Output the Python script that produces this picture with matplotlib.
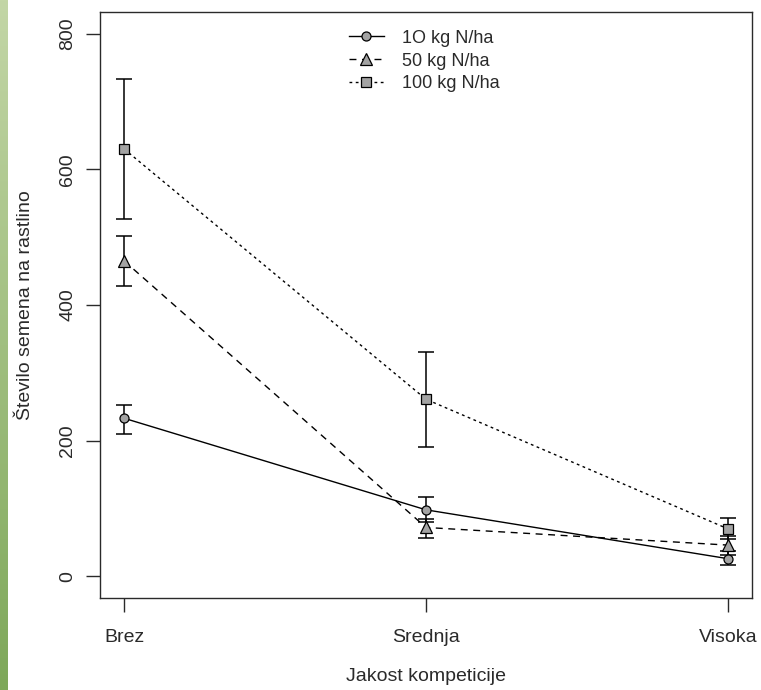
import numpy as np
import matplotlib
matplotlib.use("Agg")
import matplotlib.pyplot as plt
from matplotlib.lines import Line2D
from matplotlib.colors import LinearSegmentedColormap

plt.rcParams['font.family'] = ['Liberation Sans', 'DejaVu Sans']

categories = ["Brez", "Srednja", "Visoka"]
series_labels = ["1O kg N/ha", "50 kg N/ha", "100 kg N/ha"]
mean_10 = [233, 98, 26]
err_lo_10 = [210, 80, 16]
err_hi_10 = [253, 117, 38]
mean_50 = [465, 72, 46]
err_lo_50 = [428, 56, 32]
err_hi_50 = [502, 85, 60]
mean_100 = [630, 261, 70]
err_lo_100 = [527, 191, 55]
err_hi_100 = [733, 330, 86]
y_ticks = [0, 200, 400, 600, 800]

TXT = "#2a2a2a"
fig = plt.figure(figsize=(7.61, 6.90), dpi=100)

# green gradient strip along the left edge
strip = fig.add_axes([0, 0, 8 / 761, 1])
grad = np.linspace(0, 1, 256).reshape(-1, 1)
cmap = LinearSegmentedColormap.from_list("g", ["#c3d6a6", "#7ea85a"])
strip.imshow(grad, aspect="auto", cmap=cmap, origin="upper")
strip.axis("off")

ax = fig.add_axes([100 / 761, 1 - 598 / 690, 652 / 761, 586 / 690])
x = np.arange(1, len(categories) + 1)

styles = [
    (mean_10, err_lo_10, err_hi_10, "-", "o", 6.5),
    (mean_50, err_lo_50, err_hi_50, (0, (5, 4)), "^", 8),
    (mean_100, err_lo_100, err_hi_100, (0, (2, 2.5)), "s", 6.5),
]
handles = []
for (m, lo, hi, ls, mk, ms), lab in zip(styles, series_labels):
    m = np.array(m); lo = np.array(lo); hi = np.array(hi)
    ax.errorbar(x, m, yerr=[m - lo, hi - m], fmt="none", ecolor="black",
                elinewidth=1.1, capsize=6, capthick=1.1, zorder=2)
    ax.plot(x, m, linestyle=ls, color="black", linewidth=1.0, zorder=3)
    ax.plot(x, m, linestyle="none", marker=mk, markersize=ms,
            markerfacecolor="#a3a3a3", markeredgecolor="black",
            markeredgewidth=0.9, zorder=4)
    handles.append(Line2D([], [], linestyle=ls, color="black", linewidth=1.0,
                          marker=mk, markersize=ms, markerfacecolor="#a3a3a3",
                          markeredgecolor="black", markeredgewidth=0.9))

ax.set_xlim(0.92, 3.08)
ax.set_ylim(-32, 832)
ax.set_xticks(x)
ax.set_xticklabels(categories)
ax.set_yticks(y_ticks)
ax.set_yticklabels([str(v) for v in y_ticks], rotation=90, va="center")
ax.tick_params(axis="both", direction="out", length=10, width=1.0,
               labelsize=14, colors=TXT)
ax.tick_params(axis="x", pad=12)
ax.tick_params(axis="y", pad=7)
for s in ax.spines.values():
    s.set_linewidth(1.0)
    s.set_color(TXT)

ax.set_xlabel("Jakost kompeticije", fontsize=14, color=TXT, labelpad=16)
ax.set_ylabel("Število semena na rastlino", fontsize=14, color=TXT, labelpad=18)

leg = ax.legend(handles, series_labels, loc="upper left",
                bbox_to_anchor=(242 / 652, 0.982), frameon=False, fontsize=13,
                handlelength=1.9, handletextpad=1.05, labelspacing=0.32,
                borderaxespad=0)
for t in leg.get_texts():
    t.set_color(TXT)

fig.savefig("out.png", dpi=100)
